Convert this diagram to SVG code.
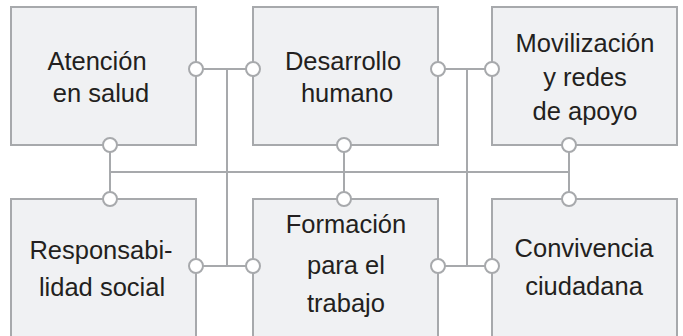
<svg xmlns="http://www.w3.org/2000/svg" width="683" height="336" viewBox="0 0 683 336">
<style>
.box{fill:#f0f1f3;stroke:#a7a9ac;stroke-width:2}
.ln{stroke:#a7a9ac;stroke-width:2;fill:none}
.dot{fill:#ffffff;stroke:#a7a9ac;stroke-width:2}
text{font-family:"Liberation Sans",Arial,sans-serif;font-size:25.5px;fill:#231f20;text-anchor:middle}
</style>
<rect width="683" height="336" fill="#ffffff"/>
<g id="atencion">
<rect class="box" x="11" y="7" width="185" height="138"/>
<text x="97" y="70">Atención</text>
<text x="101" y="102">en salud</text>
</g>
<g id="desarrollo">
<rect class="box" x="253" y="7" width="185" height="138"/>
<text x="343" y="70">Desarrollo</text>
<text x="347" y="102">humano</text>
</g>
<g id="movilizacion">
<rect class="box" x="492" y="7" width="185" height="138"/>
<text x="585" y="52">Movilización</text>
<text x="585" y="86">y redes</text>
<text x="585" y="120">de apoyo</text>
</g>
<g id="responsabilidad">
<rect class="box" x="11" y="199" width="185" height="150"/>
<text x="101" y="259">Responsabi-</text>
<text x="102" y="296">lidad social</text>
</g>
<g id="formacion">
<rect class="box" x="253" y="199" width="185" height="150"/>
<text x="346" y="233">Formación</text>
<text x="346" y="274">para el</text>
<text x="346" y="312">trabajo</text>
</g>
<g id="convivencia">
<rect class="box" x="492" y="199" width="185" height="150"/>
<text x="584" y="257">Convivencia</text>
<text x="584" y="295">ciudadana</text>
</g>
<g id="connectors">
<path class="ln" d="M196 69H253M227 69V266M196 266H253M438 69H492M467 69V266M438 266H492M110 172H569M110 145V199M344 145V199M569 145V199"/>
<circle class="dot" cx="196" cy="69" r="7"/>
<circle class="dot" cx="253" cy="69" r="7"/>
<circle class="dot" cx="438" cy="69" r="7"/>
<circle class="dot" cx="492" cy="69" r="7"/>
<circle class="dot" cx="110" cy="145" r="7"/>
<circle class="dot" cx="344" cy="145" r="7"/>
<circle class="dot" cx="569" cy="145" r="7"/>
<circle class="dot" cx="110" cy="199" r="7"/>
<circle class="dot" cx="344" cy="199" r="7"/>
<circle class="dot" cx="569" cy="199" r="7"/>
<circle class="dot" cx="196" cy="266" r="7"/>
<circle class="dot" cx="253" cy="266" r="7"/>
<circle class="dot" cx="438" cy="266" r="7"/>
<circle class="dot" cx="492" cy="266" r="7"/>
</g>
</svg>
